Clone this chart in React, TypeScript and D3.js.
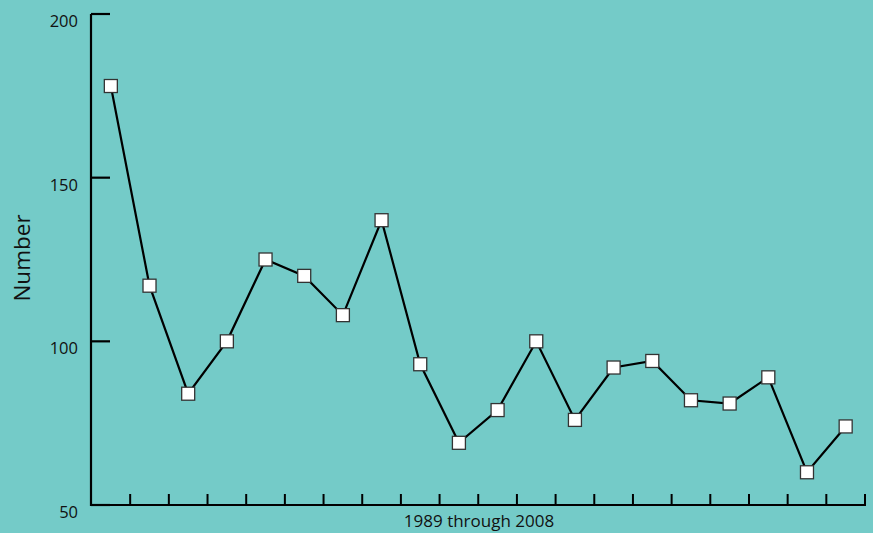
import React from "react";
import * as d3 from "d3";

const years = d3.range(1989, 2009).map(String);
const values = [178, 117, 84, 100, 125, 120, 108, 137, 93, 69, 79, 100, 76, 92, 94, 82, 81, 89, 60, 74];
const yTicks = [50, 100, 150, 200];

const W = 873;
const H = 533;
const FONT = "'Open Sans', 'Noto Sans', sans-serif";

export default function App() {
  const x = d3.scaleBand<string>().domain(years).range([91.5, 865]);
  const y = d3.scaleLinear().domain([50, 200]).range([505, 14]);
  const line = d3
    .line<number>()
    .x((_, i) => (x(years[i]) as number) + x.bandwidth() / 2)
    .y((d) => y(d));
  const ms = 13;
  return (
    <div style={{ position: "fixed", left: 0, top: 0 }}>
      <svg width={W} height={H} style={{ display: "block" }}>
        <rect width={W} height={H} fill="#74CBC8" />
        {/* y axis */}
        <line x1={91} x2={91} y1={y(200)} y2={y(50) + 1} stroke="#000" strokeWidth={2.2} />
        {yTicks.map((t) => (
          <g key={t}>
            <line x1={91} x2={110} y1={y(t)} y2={y(t)} stroke="#000" strokeWidth={2.2} />
            <text
              x={78}
              y={y(t) + 13}
              textAnchor="end"
              fontFamily={FONT}
              fontSize={16.5}
              fill="#111"
            >
              {t}
            </text>
          </g>
        ))}
        {/* x axis */}
        <line x1={90} x2={866} y1={y(50)} y2={y(50)} stroke="#000" strokeWidth={2.2} />
        {years.map((yr, i) => (
          <line
            key={yr}
            x1={(x(yr) as number) + x.bandwidth()}
            x2={(x(yr) as number) + x.bandwidth()}
            y1={y(50)}
            y2={y(50) - 11}
            stroke="#000"
            strokeWidth={2}
          />
        ))}
        <text
          x={479}
          y={527}
          textAnchor="middle"
          fontFamily={FONT}
          fontSize={17}
          fill="#111"
        >
          1989 through 2008
        </text>
        <text
          transform={`translate(30,258) rotate(-90)`}
          textAnchor="middle"
          fontFamily={FONT}
          fontSize={22.5}
          fill="#111"
        >
          Number
        </text>
        <path d={line(values) || ""} fill="none" stroke="#000" strokeWidth={2.2} />
        {values.map((v, i) => (
          <rect
            key={i}
            x={(x(years[i]) as number) + x.bandwidth() / 2 - ms / 2}
            y={y(v) - ms / 2}
            width={ms}
            height={ms}
            fill="#fff"
            stroke="#333"
            strokeWidth={1.3}
          />
        ))}
      </svg>
    </div>
  );
}
